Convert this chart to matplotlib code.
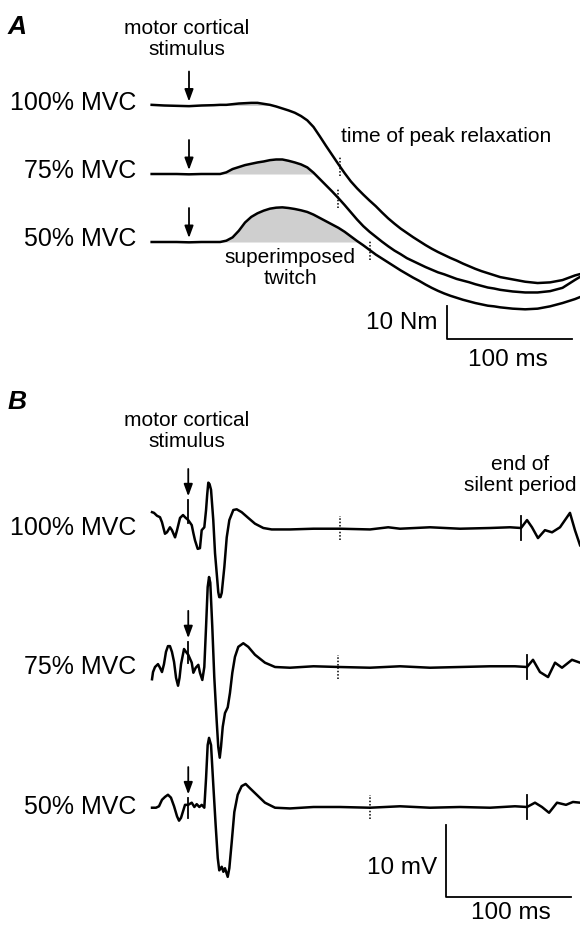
import numpy as np
import matplotlib
matplotlib.use('Agg')
import matplotlib.pyplot as plt

plt.rcParams['font.family'] = ['Liberation Sans', 'DejaVu Sans']

# contraction levels (top to bottom)
levels = ['100% MVC', '75% MVC', '50% MVC']

# --- A: torque change (Nm) against time from the cortical stimulus (ms)
t_torque = [-30, -20, -10, 0, 10, 20, 25, 30, 35, 40, 45, 50, 55, 60, 65, 70, 75, 80, 85, 90,
            95, 100, 105, 110, 115, 120, 125, 130, 135, 140, 145, 150, 155, 160, 165, 170,
            175, 180, 185, 190, 195, 200, 205, 210, 215, 220, 225, 230, 235, 240, 245, 250,
            260, 270, 280, 290, 300, 310, 314]
torque_100 = [0.2, 0.0, -0.1, -0.2, 0.0, 0.1,
              0.2, 0.2, 0.4, 0.6, 0.7, 0.8, 0.8, 0.5, 0.2, -0.3,
              -0.9, -1.5, -2.2, -3.2, -4.5, -6.5, -9.3, -12.2, -15.0, -17.8,
              -20.5, -23.0, -25.1, -27.0, -28.8, -30.5, -32.4, -34.2, -35.8, -37.3,
              -38.6, -39.9, -41.1, -42.3, -43.4, -44.4, -45.3, -46.2, -47.0, -47.9,
              -48.7, -49.5, -50.2, -50.8, -51.4, -52.0,
              -52.7, -53.4, -53.8, -53.6, -52.9, -51.5, -51.1]
torque_75 = [0.0, 0.0, 0.0, -0.1, 0.0, 0.0,
             0.0, 0.5, 1.5, 2.1, 2.7, 3.1, 3.5, 3.8, 4.2, 4.4,
             4.4, 4.0, 3.5, 2.9, 2.0, 0.4, -1.5, -3.4, -5.3, -7.3,
             -9.4, -11.6, -13.8, -15.8, -17.5, -19.0, -20.5, -21.9, -23.2, -24.3,
             -25.5, -26.4, -27.3, -28.2, -29.0, -29.8, -30.4, -31.1, -31.8, -32.3,
             -32.8, -33.4, -33.9, -34.4, -34.7, -35.1,
             -35.6, -35.9, -35.9, -35.5, -34.5, -32.1, -31.2]
torque_50 = [0.0, 0.0, 0.0, -0.1, 0.0, 0.0,
             0.0, 0.4, 1.4, 3.4, 5.9, 7.6, 8.7, 9.5, 10.1, 10.4,
             10.5, 10.3, 10.0, 9.6, 9.1, 8.3, 7.3, 6.3, 5.3, 4.3,
             3.1, 1.7, 0.3, -1.0, -2.4, -3.8, -5.0, -6.2, -7.4, -8.6,
             -9.7, -10.8, -11.8, -12.9, -13.9, -14.8, -15.6, -16.3, -16.9, -17.5,
             -18.0, -18.5, -18.9, -19.3, -19.5, -19.8,
             -20.2, -20.4, -20.2, -19.5, -18.5, -17.3, -16.7]
peak_relax_ms = [121, 120, 145]

# --- B: EMG (mV)
emg_t_100 = [-29.7, -28.1, -25.7, -23.3, -21.7, -19.3, -17.7, -15.3, -13.7, -11.2,
             -9.6, -7.2, -4.8, -3.2, -0.6, 2.2, 3.5, 4.8, 7.0, 8.8,
             10.2, 12.3, 13.7, 14.6, 15.5, 16.5, 17.7, 19.5, 20.9, 22.7,
             23.5, 24.3, 25.3, 26.3, 28.4, 30.3, 32.4, 35.6, 38.3, 42.3,
             47.6, 53.0, 59.7, 66.4, 81.1, 100.0, 121.3, 145.4, 160.0, 169.5,
             193.6, 217.7, 241.8, 257.8, 266.7, 271.5, 275.5, 280.3, 285.9, 291.6,
             298.0, 303.6, 306.0, 310.0, 314.1]
emg_mv_100 = [2.2, 2.1, 1.7, 1.5, 0.8, -0.8, -0.6, 0.1, -0.3, -1.3,
              -0.3, 1.4, 1.8, 1.5, 1.1, 0.4, -0.7, -1.7, -2.9, -2.8,
              -0.3, 0.1, 2.5, 4.6, 6.3, 6.1, 5.3, 1.1, -3.5, -7.2,
              -8.9, -9.6, -9.6, -9.0, -5.4, -1.3, 1.1, 2.5, 2.6, 2.2,
              1.4, 0.6, 0.0, -0.2, -0.2, -0.1, -0.1, -0.2, 0.1, -0.1,
              0.1, -0.1, 0.0, 0.1, 0.0, 1.1, 0.1, -1.4, -0.3, -0.6,
              0.1, 1.5, 2.1, -0.3, -2.4]
emg_t_75 = [-29.7, -28.9, -27.3, -24.9, -23.3, -21.7, -20.1, -18.5, -16.9, -15.3,
            -13.7, -12.0, -10.4, -8.8, -7.6, -6.4, -4.0, -2.4, -0.6, 2.2,
            3.5, 5.4, 7.5, 8.8, 10.7, 12.3, 13.7, 15.0, 16.1, 17.1,
            18.7, 20.3, 22.2, 23.5, 24.7, 25.7, 27.1, 28.9, 31.1, 32.9,
            34.8, 36.9, 39.6, 43.6, 47.6, 53.0, 61.0, 69.1, 81.1, 100.0,
            120.5, 145.4, 169.5, 193.6, 217.7, 241.8, 261.8, 271.5, 276.3, 281.9,
            288.4, 294.0, 299.6, 307.6, 314.1]
emg_mv_75 = [-1.7, -0.7, 0.0, 0.4, -0.1, -0.7, 0.4, 2.1, 2.9, 2.9,
             2.1, 0.7, -1.5, -2.6, -1.5, 0.4, 2.5, 2.1, 1.7, 0.6,
             -0.8, -0.1, 0.3, -0.8, -1.8, 0.0, 5.6, 11.1, 12.5, 11.7,
             5.6, -1.4, -7.4, -11.1, -12.6, -11.1, -8.3, -6.4, -5.6, -3.6,
             -0.8, 1.4, 2.8, 3.3, 2.8, 1.7, 0.6, 0.0, -0.1, 0.1,
             0.0, -0.1, 0.1, -0.1, 0.0, 0.1, 0.1, 0.0, 1.0, -0.7,
             -1.4, 0.6, -0.1, 1.0, 0.6]
emg_t_50 = [-29.7, -26.5, -24.1, -21.7, -19.3, -16.9, -14.5, -12.0, -9.6, -8.0,
            -6.4, -4.8, -3.2, -0.6, 2.2, 4.3, 6.2, 8.3, 10.2, 12.3,
            13.7, 15.0, 16.1, 17.7, 19.5, 21.4, 23.1, 24.3, 26.3, 27.6,
            28.9, 31.1, 32.4, 34.3, 36.4, 39.1, 42.3, 45.5, 49.0, 54.4,
            61.0, 69.1, 81.1, 100.0, 121.3, 145.4, 169.5, 193.6, 217.7, 241.8,
            261.8, 271.5, 277.9, 283.5, 289.2, 295.6, 302.8, 308.4, 314.1]
emg_mv_50 = [-0.1, -0.1, 0.1, 1.0, 1.4, 1.7, 1.3, 0.1, -1.3, -1.9,
             -1.5, -0.6, 0.3, 0.3, 0.6, 0.0, 0.4, 0.0, 0.3, -0.1,
             4.0, 8.6, 9.6, 8.6, 3.1, -2.5, -7.1, -8.8, -8.3, -9.0,
             -8.5, -9.7, -8.5, -4.9, -0.7, 1.7, 2.9, 3.2, 2.6, 1.7,
             0.6, -0.1, -0.2, 0.0, 0.0, -0.1, 0.1, -0.1, 0.0, -0.1,
             0.1, 0.0, 0.6, 0.0, -0.8, 0.6, 0.3, 0.7, 0.6]
silent_end_ms = [267, 271.5, 271.5]
stim_ms = -0.6
stim_artifact_top = [3.9, 3.5, 1.25]
stim_artifact_bot = [0.7, 0.6, -1.5]

# --- layout (pixels of the 580x925 output)
W, H = 580, 925
PX_MS = 1.245          # px per ms
T0 = 189               # x px of stimulus
NM_PX = 3.3            # px per Nm
MV_PX = 7.2            # px per mV
A_H = 385              # height of panel A in px
baseA_px = [105.5, 174, 242]
baseB_px = [528, 667, 807]

fig = plt.figure(figsize=(W / 100, H / 100), dpi=100)
axA = fig.add_axes([0, 1 - A_H / H, 1, A_H / H])
axB = fig.add_axes([0, 0, 1, (H - A_H) / H])
xlim = (-T0 / PX_MS, (W - T0) / PX_MS)
axA.set_xlim(xlim)
axA.set_ylim(0, A_H / NM_PX)
axB.set_xlim(xlim)
axB.set_ylim(0, (H - A_H) / MV_PX)
for ax in (axA, axB):
    ax.axis('off')

def ptext(x, y, s, **kw):
    fig.text(x / W, 1 - y / H, s, **kw)

lw = 1.8
arrow = dict(arrowstyle='-|>,head_length=0.6,head_width=0.22', lw=1.3, color='k',
             shrinkA=0, shrinkB=0, mutation_scale=12)

# panel A traces
t = np.array(t_torque)
for i, vals in enumerate([torque_100, torque_75, torque_50]):
    v = np.array(vals)
    off = (A_H - baseA_px[i]) / NM_PX
    axA.fill_between(t, off, off + v, where=(t >= 20) & (v > 0), interpolate=True,
                     color='#cfcfcf', lw=0)
    axA.plot(t, off + v, color='k', lw=lw, solid_joinstyle='round')
    yr = off + np.interp(peak_relax_ms[i], t, v)
    axA.plot([peak_relax_ms[i]] * 2, [yr - 3.0, yr + 3.0], color='k', lw=1.1,
             ls=(0, (1, 1.2)))
    axA.annotate('', xy=(0, off + 1.2), xytext=(0, off + 10.3), arrowprops=arrow)
    axA.text(-42, off + 0.8, levels[i], ha='right', va='center', fontsize=18)

# scale bar A
sbx = (447 - T0) / PX_MS
sby = (A_H - 339) / NM_PX
axA.plot([sbx, sbx, sbx + 100], [sby + 10, sby, sby], color='k', lw=1.3)

ptext(8, 27, 'A', fontsize=19, fontweight='bold', fontstyle='italic', va='center')
ptext(187, 39, 'motor cortical\nstimulus', fontsize=15, ha='center', va='center',
      linespacing=1.12)
ptext(341, 137, 'time of peak relaxation', fontsize=15, ha='left', va='center')
ptext(290, 268, 'superimposed\ntwitch', fontsize=15, ha='center', va='center',
      linespacing=1.1)
ptext(437, 323, '10 Nm', fontsize=17.5, ha='right', va='center')
ptext(508, 360, '100 ms', fontsize=17.5, ha='center', va='center')

# panel B traces
for i, (tt, mv) in enumerate([(emg_t_100, emg_mv_100), (emg_t_75, emg_mv_75),
                              (emg_t_50, emg_mv_50)]):
    off = (H - baseB_px[i]) / MV_PX
    axB.plot(tt, off + np.array(mv), color='k', lw=lw, solid_joinstyle='round')
    axB.plot([stim_ms, stim_ms], [off + stim_artifact_bot[i], off + stim_artifact_top[i]],
             color='k', lw=1.3)
    axB.plot([peak_relax_ms[i]] * 2, [off - 1.7, off + 1.7], color='k', lw=1.1,
             ls=(0, (1, 1.2)))
    axB.plot([silent_end_ms[i]] * 2, [off - 1.7, off + 1.7], color='k', lw=1.3)
    tip = off + stim_artifact_top[i] + 0.5
    axB.annotate('', xy=(stim_ms, tip), xytext=(stim_ms, tip + 3.8), arrowprops=arrow)
    axB.text(-42, off, levels[i], ha='right', va='center', fontsize=18)

# scale bar B
sbx = (446 - T0) / PX_MS
sby = (H - 897) / MV_PX
axB.plot([sbx, sbx, sbx + 100], [sby + 10, sby, sby], color='k', lw=1.3)

ptext(8, 402, 'B', fontsize=19, fontweight='bold', fontstyle='italic', va='center')
ptext(187, 431, 'motor cortical\nstimulus', fontsize=15, ha='center', va='center',
      linespacing=1.12)
ptext(520, 475, 'end of\nsilent period', fontsize=15, ha='center', va='center',
      linespacing=1.12)
ptext(437, 868, '10 mV', fontsize=17.5, ha='right', va='center')
ptext(511, 913, '100 ms', fontsize=17.5, ha='center', va='center')

fig.savefig('out.png', dpi=100, facecolor='white')
